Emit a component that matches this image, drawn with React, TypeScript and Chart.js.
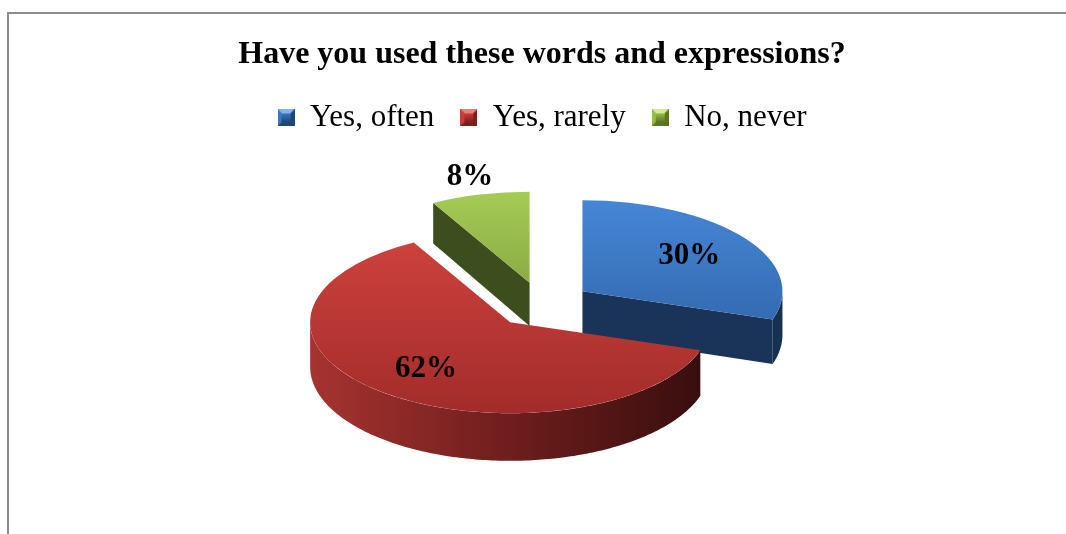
import React, { useEffect, useRef } from "react";
import { Chart, registerables } from "chart.js";

Chart.register(...registerables);

const TITLE = "Have you used these words and expressions?";
const CATEGORIES = ["Yes, often", "Yes, rarely", "No, never"];
const VALUES = [30, 62, 8];

// top face gradient [top, bottom]
const TOP_COLORS = [
  ["#4686d6", "#2b5d9e"],
  ["#cf433e", "#a22c2a"],
  ["#a6cb55", "#6f8d33"],
];
// radial cut faces
const FACE_COLORS = ["#1a3358", "#7a2220", "#3c4e1e"];
// outer wall gradient [left, mid, right]
const WALL_COLORS = [
  ["#2a5490", "#1f3f6c", "#16304f"],
  ["#a63330", "#6e1e1d", "#360d0d"],
  ["#6a8830", "#4d6424", "#33421a"],
];
// legend icon colours [light, base, dark]
const ICON_COLORS = [
  ["#7fb2ee", "#3c75bd", "#1f4678"],
  ["#f07d78", "#c93d39", "#7d1f1d"],
  ["#d1ec8e", "#95bb45", "#5a7527"],
];

const FONT = "'Liberation Serif', 'Times New Roman', serif";
const SQUASH = 0.455;
const DEPTH_BASE = 44;
const DEPTH_SLOPE = 3;
const EXPLODE = 50;
const RADIUS = 200;

function makeIcon(cols: string[]) {
  const c = document.createElement("canvas");
  c.width = 17;
  c.height = 17;
  const g = c.getContext("2d")!;
  const s = 17, b = 4;
  g.fillStyle = cols[2];
  g.fillRect(0, 0, s, s);
  const poly = (pts: number[][], col: string) => {
    g.beginPath();
    g.moveTo(pts[0][0], pts[0][1]);
    for (let k = 1; k < pts.length; k++) g.lineTo(pts[k][0], pts[k][1]);
    g.closePath();
    g.fillStyle = col;
    g.fill();
  };
  poly([[0, 0], [s, 0], [s - b, b], [b, b]], cols[0]);
  poly([[0, 0], [b, b], [b, s - b], [0, s]], cols[1]);
  poly([[s, 0], [s, s], [s - b, s - b], [s - b, b]], cols[2]);
  poly([[0, s], [s, s], [s - b, s - b], [b, s - b]], cols[2]);
  const gr = g.createLinearGradient(0, b, 0, s - b);
  gr.addColorStop(0, cols[1]);
  gr.addColorStop(1, cols[2]);
  g.fillStyle = gr;
  g.fillRect(b, b, s - 2 * b, s - 2 * b);
  return c;
}

const pie3d = {
  id: "pie3d",
  beforeDatasetsDraw(chart: any) {
    const meta = chart.getDatasetMeta(0);
    const arcs = meta.data as any[];
    if (!arcs.length) return;
    const ctx: CanvasRenderingContext2D = chart.ctx;
    const ax = arcs[0].x;
    const ay = arcs[0].y;
    const mid = (a: any) => (a.startAngle + a.endAngle) / 2;
    const order = arcs
      .map((_, i) => i)
      .sort((i, j) => Math.sin(mid(arcs[i])) - Math.sin(mid(arcs[j])));

    for (const i of order) {
      const a = arcs[i];
      const s = a.startAngle, e = a.endAngle, r = a.outerRadius;
      const m = (s + e) / 2;
      const ox = Math.cos(m) * EXPLODE;
      const oy = Math.sin(m) * EXPLODE;
      const cx = ax + ox;
      const cy = ay + oy * SQUASH;
      const X = (t: number, rr: number) => cx + Math.cos(t) * rr;
      const Y = (t: number, rr: number) => cy + Math.sin(t) * rr * SQUASH;
      const D = (t: number, rr: number) => DEPTH_BASE + (DEPTH_SLOPE * (oy + Math.sin(t) * rr)) / r;

      const face = (t: number) => {
        ctx.beginPath();
        ctx.moveTo(cx, cy);
        ctx.lineTo(X(t, r), Y(t, r));
        ctx.lineTo(X(t, r), Y(t, r) + D(t, r));
        ctx.lineTo(cx, cy + D(t, 0));
        ctx.closePath();
        ctx.fillStyle = FACE_COLORS[i];
        ctx.fill();
      };
      if (Math.cos(s) < -1e-6) face(s);
      if (Math.cos(e) > 1e-6) face(e);

      const w0 = Math.max(s, 0);
      const w1 = Math.min(e, Math.PI);
      if (w1 > w0) {
        const n = Math.max(8, Math.ceil((w1 - w0) * 60));
        ctx.beginPath();
        for (let k = 0; k <= n; k++) {
          const t = w0 + ((w1 - w0) * k) / n;
          if (k === 0) ctx.moveTo(X(t, r), Y(t, r));
          else ctx.lineTo(X(t, r), Y(t, r));
        }
        for (let k = n; k >= 0; k--) {
          const t = w0 + ((w1 - w0) * k) / n;
          ctx.lineTo(X(t, r), Y(t, r) + D(t, r));
        }
        ctx.closePath();
        const g = ctx.createLinearGradient(cx - r, 0, cx + r, 0);
        g.addColorStop(0, WALL_COLORS[i][0]);
        g.addColorStop(0.5, WALL_COLORS[i][1]);
        g.addColorStop(1, WALL_COLORS[i][2]);
        ctx.fillStyle = g;
        ctx.fill();
      }

      ctx.save();
      ctx.translate(0, ay);
      ctx.scale(1, SQUASH);
      ctx.translate(ox, oy - ay);
      a.draw(ctx);
      ctx.restore();
    }

    const total = VALUES.reduce((p, v) => p + v, 0);
    ctx.save();
    ctx.font = `bold 31px ${FONT}`;
    ctx.fillStyle = "#000";
    ctx.textAlign = "center";
    ctx.textBaseline = "middle";
    arcs.forEach((a, i) => {
      const m = (a.startAngle + a.endAngle) / 2;
      const frac = VALUES[i] / total;
      const rr = frac < 0.1 ? a.outerRadius * 1.2 : a.outerRadius * 0.66;
      const x = ax + Math.cos(m) * (EXPLODE + rr);
      const y = ay + Math.sin(m) * (EXPLODE + rr) * SQUASH;
      ctx.fillText(Math.round(frac * 100) + "%", x, y);
    });
    ctx.restore();
    return false;
  },
};

export default function App() {
  const ref = useRef<HTMLCanvasElement>(null);

  useEffect(() => {
    if (!ref.current) return;
    const icons = ICON_COLORS.map(makeIcon);
    const chart = new Chart(ref.current, {
      type: "pie",
      data: {
        labels: CATEGORIES,
        datasets: [
          {
            data: VALUES,
            radius: RADIUS,
            borderWidth: 0,
            backgroundColor: (c: any) => {
              const i = c.dataIndex ?? 0;
              const area = c.chart.chartArea;
              if (!area) return TOP_COLORS[i][0];
              const cy = (area.top + area.bottom) / 2;
              const g = c.chart.ctx.createLinearGradient(0, cy - RADIUS, 0, cy + RADIUS);
              g.addColorStop(0, TOP_COLORS[i][0]);
              g.addColorStop(1, TOP_COLORS[i][1]);
              return g;
            },
          } as any,
        ],
      },
      options: {
        responsive: false,
        animation: false,
        events: [],
        layout: { padding: { left: 22, right: 4, top: 0, bottom: 68 } },
        plugins: {
          tooltip: { enabled: false },
          title: {
            display: true,
            text: TITLE,
            color: "#000",
            font: { family: FONT, size: 32, weight: "bold" },
            padding: { top: 36, bottom: 2 },
          },
          legend: {
            display: true,
            position: "top",
            labels: {
              color: "#000",
              font: { family: FONT, size: 31 },
              boxWidth: 17,
              boxHeight: 17,
              padding: 26,
              usePointStyle: true,
              generateLabels: (ch: any) => {
                const items = (Chart as any).overrides.doughnut.plugins.legend.labels.generateLabels(ch);
                return items.map((it: any, i: number) => ({ ...it, pointStyle: icons[i] }));
              },
            },
          },
        },
      } as any,
      plugins: [pie3d as any],
    });
    return () => chart.destroy();
  }, []);

  return (
    <div
      style={{
        position: "fixed",
        left: 0,
        top: 0,
        width: 1066,
        height: 534,
        overflow: "hidden",
        background: "#fff",
      }}
    >
      <div
        style={{
          position: "absolute",
          left: 7,
          top: 12,
          width: 1200,
          height: 700,
          borderLeft: "2px solid #8c8c8c",
          borderTop: "2px solid #8c8c8c",
        }}
      />
      <canvas
        ref={ref}
        width={1066}
        height={534}
        style={{ position: "absolute", left: 0, top: 0, width: 1066, height: 534 }}
      />
    </div>
  );
}
